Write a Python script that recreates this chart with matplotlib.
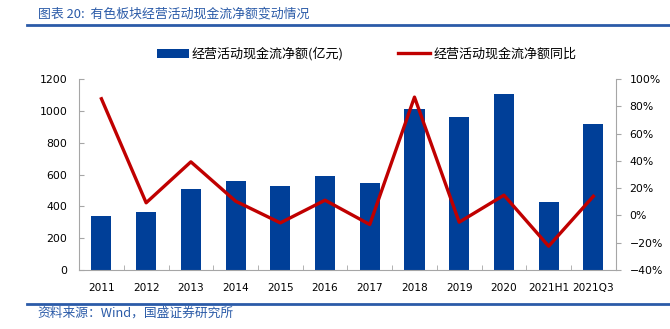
import matplotlib.pyplot as plt
import numpy as np
from matplotlib.ticker import PercentFormatter

plt.rcParams['font.family'] = ['DejaVu Sans', 'Noto Sans CJK SC']
cjk = ['Noto Sans CJK SC', 'DejaVu Sans']

years = ['2011', '2012', '2013', '2014', '2015', '2016', '2017', '2018',
         '2019', '2020', '2021H1', '2021Q3']
cash_flow = [338, 367, 507, 560, 528, 589, 547, 1014, 962, 1103, 428, 916]
yoy = [85.5, 9.3, 39.3, 10.5, -5.4, 11.2, -6.6, 86.7, -4.9, 14.9, -22.5, 14.1]

bar_color = '#003F98'
line_color = '#C00000'
blue = '#2B5BA8'
axis_gray = '#A6A6A6'

fig = plt.figure(figsize=(6.7, 3.29), dpi=100)
ax = fig.add_axes([0.118, 0.179, 0.801, 0.581])
x = np.arange(len(years))

bars = ax.bar(x, cash_flow, width=0.45, color=bar_color, zorder=2,
              label='经营活动现金流净额(亿元)')
ax.set_ylim(0, 1200)
ax.set_yticks(range(0, 1201, 200))
ax.set_xlim(-0.5, len(years) - 0.5)
ax.set_xticks(x)
ax.set_xticklabels(years)
ax.set_xticks(np.arange(-0.5, len(years)), minor=True)
ax.tick_params(axis='x', which='major', length=0, pad=9, labelsize=7.6)
ax.tick_params(axis='x', which='minor', length=3.5, direction='in', color=axis_gray)
ax.tick_params(axis='y', length=3.5, direction='in', color=axis_gray,
               labelsize=7.8, pad=8.5)

ax2 = ax.twinx()
line, = ax2.plot(x, yoy, color=line_color, lw=2.4, zorder=3,
                 label='经营活动现金流净额同比')
ax2.set_ylim(-40, 100)
ax2.set_yticks(range(-40, 101, 20))
ax2.yaxis.set_major_formatter(PercentFormatter(decimals=0))
ax2.tick_params(axis='y', length=3.5, direction='out', color=axis_gray,
                labelsize=7.8, pad=6.5)

for a in (ax, ax2):
    a.spines['top'].set_visible(False)
    for s in ('left', 'right', 'bottom'):
        a.spines[s].set_color(axis_gray)
ax.spines['right'].set_visible(False)
ax2.spines['left'].set_visible(False)
ax2.spines['bottom'].set_visible(False)

fig.legend([bars, line], [bars.get_label(), line.get_label()],
           loc='center', bbox_to_anchor=(0.547, 0.836), ncol=2, frameon=False,
           prop={'family': cjk, 'size': 9.4}, handlelength=2.45, handleheight=0.7,
           columnspacing=4.15, handletextpad=0.25)

fig.text(0.056, 0.957, '图表 20:  有色板块经营活动现金流净额变动情况', family=cjk,
         fontsize=9.3, color=blue, style='italic', va='center')
fig.add_artist(plt.Line2D([0.04, 1.0], [0.923, 0.923], color=blue, lw=2))
fig.add_artist(plt.Line2D([0.04, 1.0], [0.076, 0.076], color=blue, lw=2))
fig.text(0.056, 0.048, '资料来源：Wind，国盛证券研究所', family=cjk,
         fontsize=9.2, color=blue, style='italic', va='center')

fig.savefig('out.png', dpi=100)
